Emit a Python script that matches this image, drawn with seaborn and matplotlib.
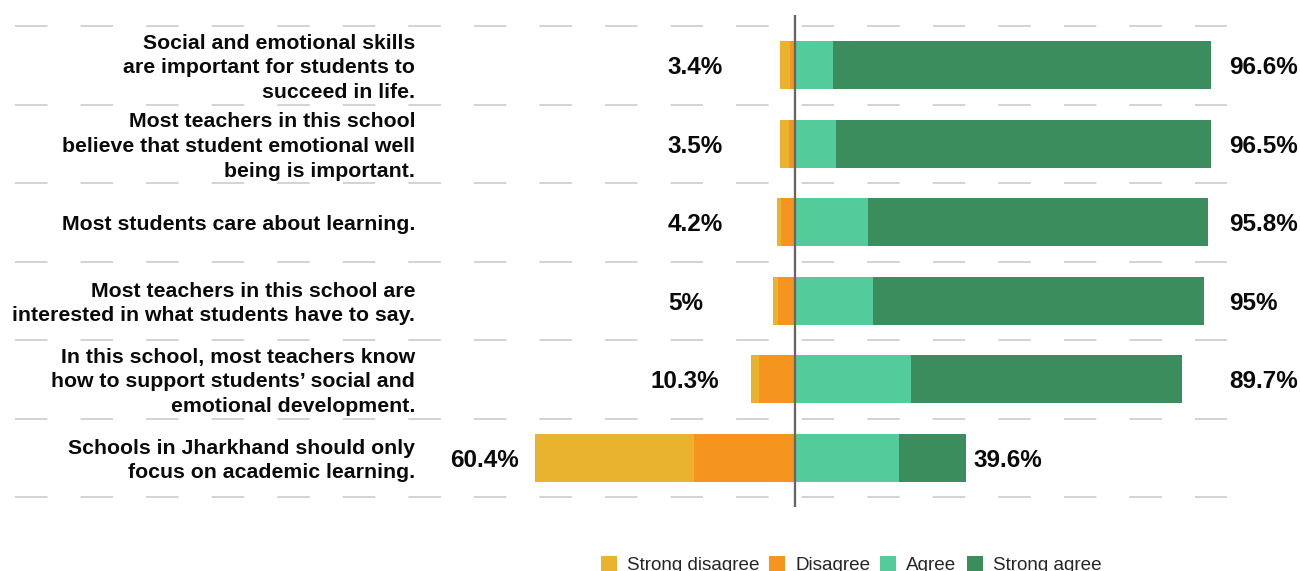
import matplotlib
matplotlib.use("Agg")
import matplotlib.pyplot as plt
from matplotlib.patches import Patch
import seaborn as sns
import pandas as pd

# Survey statements (top to bottom) and response shares in percent
statements = [
    "Social and emotional skills\nare important for students to\nsucceed in life.",
    "Most teachers in this school\nbelieve that student emotional well\nbeing is important.",
    "Most students care about learning.",
    "Most teachers in this school are\ninterested in what students have to say.",
    "In this school, most teachers know\nhow to support students\u2019 social and\nemotional development.",
    "Schools in Jharkhand should only\nfocus on academic learning.",
]
strong_disagree = [2.3, 2.0, 0.9, 1.1, 2.0, 37.0]
disagree = [1.1, 1.5, 3.3, 3.9, 8.3, 23.4]
agree = [8.8, 9.5, 16.9, 18.0, 27.0, 24.2]
strong_agree = [87.8, 87.0, 78.9, 77.0, 62.7, 15.4]
disagree_total = [3.4, 3.5, 4.2, 5, 10.3, 60.4]
agree_total = [96.6, 96.5, 95.8, 95, 89.7, 39.6]

legend_labels = ["Strong disagree", "Disagree", "Agree", "Strong agree"]
colors = ["#E9B22F", "#F5941F", "#53CB9B", "#3B8D5D"]

sns.set_theme(style="white")
plt.rcParams["font.family"] = ["Liberation Sans", "DejaVu Sans"]
plt.rcParams["lines.scale_dashes"] = False

df = pd.DataFrame({
    "statement": statements,
    "sd": strong_disagree,
    "d": disagree,
    "a": agree,
    "sa": strong_agree,
})
df["neg_outer"] = -(df["sd"] + df["d"])
df["neg_inner"] = -df["d"]
df["pos_outer"] = df["a"] + df["sa"]
df["pos_inner"] = df["a"]

W, H = 1300, 571
fig = plt.figure(figsize=(13, 5.71), dpi=100)
ax = fig.add_axes([15 / W, 1 - 507 / H, (1227 - 15) / W, (507 - 15) / H])

bar_w = 0.61
# Outer segments first, inner segments overlaid on top to form the stacks
for col, c in [("neg_outer", colors[0]), ("neg_inner", colors[1]),
               ("pos_outer", colors[3]), ("pos_inner", colors[2])]:
    sns.barplot(data=df, x=col, y="statement", order=statements, color=c,
                saturation=1, width=bar_w, errorbar=None, linewidth=0, ax=ax)

px_per_pct = 4.31
ax.set_xlim((15 - 795) / px_per_pct, (1227 - 795) / px_per_pct)
ax.set_ylim(5.5 + 10 / 78.5, -0.5 - 11 / 78.5)
ax.set_xticks([])
ax.set_yticks([])
ax.set_xlabel("")
ax.set_ylabel("")
for s in ax.spines.values():
    s.set_visible(False)

# Dashed row separators
for k in range(len(statements) + 1):
    ax.axhline(k - 0.5, color="#C8C8C8", lw=1.1,
               linestyle=(0, (23.4, 23.8)), zorder=0)

# Zero line
ax.axvline(0, color="#666666", lw=1.65, zorder=5)

text_dy = 0.035  # optical centring of text against the bars

# Statement labels
label_x = (415 - 795) / px_per_pct
for i, s in enumerate(statements):
    ax.text(label_x, i + text_dy, s, ha="right", va="center", fontsize=15.3,
            fontweight="bold", color="#0A0A0A", linespacing=1.37)

def fmt(v):
    return f"{v:g}%"

# Totals on each side
for i, (dt, at) in enumerate(zip(disagree_total, agree_total)):
    y = i + text_dy
    if dt > 50:
        ax.text(-dt - 3.7, y, fmt(dt), ha="right", va="center",
                fontsize=17.5, fontweight="bold", color="#0A0A0A")
    else:
        ax.text(min(-29.5, -dt - 23.2), y, fmt(dt), ha="left", va="center",
                fontsize=17.5, fontweight="bold", color="#0A0A0A")
    if at > 50:
        ax.text(100.7, y, fmt(at), ha="left", va="center", fontsize=17.5,
                fontweight="bold", color="#0A0A0A", clip_on=False)
    else:
        ax.text(at + 1.9, y, fmt(at), ha="left", va="center", fontsize=17.5,
                fontweight="bold", color="#0A0A0A")

handles = [Patch(facecolor=c, edgecolor="none", label=l)
           for c, l in zip(colors, legend_labels)]
fig.legend(handles=handles, loc="center", ncol=4, frameon=False,
           bbox_to_anchor=(851 / W, 1 - 565 / H), fontsize=13.6,
           handlelength=0.85, handleheight=0.85, handletextpad=0.53,
           columnspacing=0.53, borderpad=0)

fig.savefig("out.png", dpi=100, facecolor="white")
